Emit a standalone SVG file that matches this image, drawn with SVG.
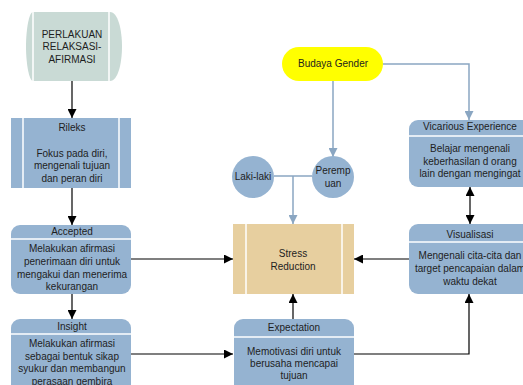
<svg xmlns="http://www.w3.org/2000/svg" width="523" height="385" viewBox="0 0 523 385">
<defs>
<style>
text{font-family:"Liberation Sans",Arial,sans-serif;font-size:10px;fill:#1e1e1e;text-anchor:middle}
.blue{fill:#95b3d1}
.sep{stroke:#ffffff;stroke-width:1.5;fill:none}
.k{stroke:#000;stroke-width:1.2;fill:none}
.b{stroke:#8aa6c2;stroke-width:1.5;fill:none}
</style>
<marker id="ak" viewBox="0 0 10 10" refX="10" refY="5" markerWidth="9" markerHeight="9" markerUnits="userSpaceOnUse" orient="auto-start-reverse"><path d="M0,0 L10,5 L0,10 Z" fill="#000"/></marker>
<marker id="ab" viewBox="0 0 10 10" refX="10" refY="5" markerWidth="9" markerHeight="9" markerUnits="userSpaceOnUse" orient="auto"><path d="M0,0 L10,5 L0,10 Z" fill="#8aa6c2"/></marker>
</defs>
<g id="connectors">
<line class="k" x1="72" y1="81" x2="72" y2="118" marker-end="url(#ak)"/>
<line class="k" x1="72" y1="188" x2="72" y2="225" marker-end="url(#ak)"/>
<line class="k" x1="72" y1="294" x2="72" y2="319" marker-end="url(#ak)"/>
<line class="k" x1="131" y1="259" x2="233" y2="259" marker-end="url(#ak)"/>
<line class="k" x1="131" y1="354" x2="233" y2="354" marker-end="url(#ak)"/>
<line class="k" x1="293" y1="319" x2="293" y2="294" marker-end="url(#ak)"/>
<polyline class="k" points="354,354 469,354 469,294" marker-end="url(#ak)"/>
<line class="k" x1="409" y1="259" x2="354" y2="259" marker-end="url(#ak)"/>
<line class="k" x1="470" y1="187" x2="470" y2="224" marker-start="url(#ak)" marker-end="url(#ak)"/>
<polyline class="b" points="383,64 469,64 469,120" marker-end="url(#ab)"/>
<line class="b" x1="333" y1="81" x2="333" y2="157" marker-end="url(#ab)"/>
<line class="b" x1="274" y1="176" x2="312" y2="176"/>
<line class="b" x1="293" y1="176" x2="293" y2="224" marker-end="url(#ab)"/>
</g>
<g id="start">
<path d="M33,12 H110 C118,12 122,30 122,46.5 C122,63 118,81 110,81 H33 C29,81 26,63 26,46.5 C26,30 29,12 33,12 Z" fill="#c9dad5"/>
<line class="sep" x1="33" y1="12" x2="33" y2="81"/>
<line class="sep" x1="109" y1="12" x2="109" y2="81"/>
<text x="72" y="38">PERLAKUAN</text>
<text x="72" y="50">RELAKSASI-</text>
<text x="72" y="63">AFIRMASI</text>
</g>
<g id="rileks">
<rect class="blue" x="11" y="118" width="120" height="70"/>
<line class="sep" x1="23" y1="118" x2="23" y2="188"/>
<line class="sep" x1="119" y1="118" x2="119" y2="188"/>
<text x="72" y="131">Rileks</text>
<text x="72" y="157">Fokus pada diri,</text>
<text x="72" y="169">mengenali tujuan</text>
<text x="72" y="182">dan peran diri</text>
</g>
<g id="accepted">
<rect class="blue" x="11" y="225" width="120" height="69" rx="9"/>
<line class="sep" x1="11" y1="239" x2="131" y2="239"/>
<text x="72" y="235">Accepted</text>
<text x="72" y="252">Melakukan afirmasi</text>
<text x="72" y="265">penerimaan diri untuk</text>
<text x="72" y="278">mengakui dan menerima</text>
<text x="72" y="290">kekurangan</text>
</g>
<g id="insight">
<rect class="blue" x="11" y="319" width="120" height="80" rx="9"/>
<line class="sep" x1="11" y1="334" x2="131" y2="334"/>
<text x="72" y="330">Insight</text>
<text x="72" y="347">Melakukan afirmasi</text>
<text x="72" y="360">sebagai bentuk sikap</text>
<text x="72" y="372">syukur dan membangun</text>
<text x="72" y="385">perasaan gembira</text>
</g>
<g id="budaya">
<rect x="282" y="47" width="101" height="34" rx="17" fill="#ffff00"/>
<text x="333" y="67">Budaya Gender</text>
</g>
<g id="laki">
<circle class="blue" cx="253" cy="177" r="21"/>
<text x="253" y="180">Laki-laki</text>
</g>
<g id="perempuan">
<circle class="blue" cx="333" cy="177" r="21"/>
<text x="333" y="174">Peremp</text>
<text x="333" y="187">uan</text>
</g>
<g id="stress">
<rect x="233" y="224" width="121" height="70" fill="#e7cf9f"/>
<line class="sep" x1="246" y1="224" x2="246" y2="294"/>
<line class="sep" x1="342" y1="224" x2="342" y2="294"/>
<text x="293" y="257">Stress</text>
<text x="293" y="270">Reduction</text>
</g>
<g id="expectation">
<rect class="blue" x="234" y="319" width="120" height="80" rx="9"/>
<line class="sep" x1="234" y1="337" x2="354" y2="337"/>
<text x="294" y="331">Expectation</text>
<text x="294" y="355">Memotivasi diri untuk</text>
<text x="294" y="367">berusaha mencapai</text>
<text x="294" y="379">tujuan</text>
</g>
<g id="vicarious">
<rect class="blue" x="409" y="120" width="122" height="67" rx="9"/>
<line class="sep" x1="409" y1="136" x2="531" y2="136"/>
<text x="470" y="130">Vicarious Experience</text>
<text x="470" y="152">Belajar mengenali</text>
<text x="470" y="165">keberhasilan d orang</text>
<text x="470" y="177">lain dengan mengingat</text>
</g>
<g id="visualisasi">
<rect class="blue" x="409" y="224" width="122" height="70" rx="9"/>
<line class="sep" x1="409" y1="242" x2="531" y2="242"/>
<text x="470" y="238">Visualisasi</text>
<text x="470" y="259">Mengenali cita-cita dan</text>
<text x="470" y="272">target pencapaian dalam</text>
<text x="470" y="285">waktu dekat</text>
</g>
</svg>
